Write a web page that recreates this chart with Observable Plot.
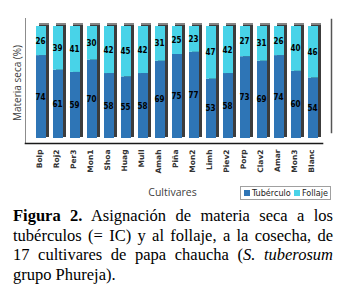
<!DOCTYPE html>
<html>
<head>
<meta charset="utf-8">
<script src="https://cdn.jsdelivr.net/npm/d3@7"></script>
<script src="https://cdn.jsdelivr.net/npm/@observablehq/plot@0.6"></script>
<style>
  html, body { margin: 0; padding: 0; background: #fff; }
  #wrap { position: relative; width: 346px; height: 290px; overflow: hidden; }
  #chart svg { display: block; }
  g[aria-label="xlabels"] text { letter-spacing: 2px; }
  #legend { position: absolute; left: 240px; top: 186px; width: 91px; height: 14px;
    border: 1px solid #a0a0a0; font: 9px "Liberation Sans Narrow", "DejaVu Sans Condensed", sans-serif;
    color: #222; display: flex; align-items: center; box-sizing: border-box; white-space: nowrap; }
  #legend .item { display: flex; align-items: center; margin-left: 3px; }
  #legend .item + .item { margin-left: auto; margin-right: 2px; }
  #legend .sw { width: 6px; height: 6px; margin-right: 2px; }
  #caption { position: absolute; left: 13px; top: 206px; width: 320px;
    font-family: "Liberation Serif", "DejaVu Serif", serif; font-size: 16.5px; line-height: 19.6px; color: #000; }
  #caption .ln { text-align: justify; text-align-last: justify; white-space: nowrap; }
  #caption .ln.last { text-align-last: left; }
</style>
</head>
<body>
<div id="wrap">
  <div id="chart"></div>
  <div id="legend"></div>
  <div id="caption">
    <div class="ln"><b>Figura 2.</b> Asignación de materia seca a los</div>
    <div class="ln">tubérculos (= IC) y al follaje, a la cosecha, de</div>
    <div class="ln">17 cultivares de papa chaucha (<i>S. tuberosum</i></div>
    <div class="ln last">grupo Phureja).</div>
  </div>
</div>
<script>
const cultivars = ["Bolp","Roj2","Per3","Mon1","Shoa","Huag","Mull","Amah","Piña","Mon2","Limh","Piev2","Porp","Clav2","Amar","Mon3","Blanc"];
const tuberculo = [74,61,59,70,58,55,58,69,75,77,53,58,73,69,74,60,54];
const follaje   = [26,39,41,30,42,45,42,31,25,23,47,42,27,31,26,40,46];
const series = ["Tubérculo","Follaje"];
const colors = ["#2e75b6","#48d3e8"];
const yTitle = "Materia seca (%)";
const xTitle = "Cultivares";

const tidy = [];
cultivars.forEach((c, i) => {
  tidy.push({cultivar: c, serie: series[0], value: tuberculo[i]});
  tidy.push({cultivar: c, serie: series[1], value: follaje[i]});
});
const totals = cultivars.map((c, i) => ({cultivar: c, total: tuberculo[i] + follaje[i]}));

const chart = Plot.plot({
  width: 346,
  height: 202,
  marginTop: 18,
  marginBottom: 59,
  marginLeft: 25,
  marginRight: 15,
  x: {type: "band", domain: cultivars, range: [31, 322], paddingInner: 0.43, paddingOuter: 0, axis: null},
  y: {domain: [0, 100], range: [138, 26], axis: null},
  color: {domain: series, range: colors},
  marks: [
    Plot.frame({anchor: "left", stroke: "#8c8c8c"}),
    Plot.frame({anchor: "right", stroke: "#555", strokeWidth: 1.5, insetBottom: 11, insetTop: 1}),
    Plot.frame({anchor: "bottom", stroke: "#1a1a1a", strokeWidth: 1.6, insetRight: 9}),
    Plot.barY(totals, {x: "cultivar", y1: 0, y2: "total", fill: "#858585", dx: 3, dy: -3}),
    Plot.barY(totals, {x: "cultivar", y1: 0, y2: "total", fill: "#3c3c3c", dx: 3, dy: -1}),
    Plot.barY(tidy, {x: "cultivar", y: "value", fill: "serie", order: series}),
    Plot.text(tidy, Plot.stackY({x: "cultivar", y: "value", z: "serie", order: series, text: "value",
      fontSize: 8, fontWeight: "bold", fill: "#000", dx: -1,
      fontFamily: "'Liberation Sans Narrow', 'DejaVu Sans Condensed', sans-serif"})),
    Plot.text(cultivars, {x: d => d, text: d => d, frameAnchor: "bottom", rotate: -90, textAnchor: "end",
      lineAnchor: "middle", dy: 6, dx: -2, fontSize: 7.5, fontWeight: "bold", fill: "#333", ariaLabel: "xlabels",
      fontFamily: "'DejaVu Sans', sans-serif"}),
    Plot.text([yTitle], {text: d => d, frameAnchor: "left", rotate: -90, textAnchor: "middle", lineAnchor: "middle",
      dx: -8, dy: 2, fontSize: 10, fill: "#404040", fontFamily: "'Open Sans', sans-serif"}),
    Plot.text([xTitle], {text: d => d, frameAnchor: "bottom", textAnchor: "middle", lineAnchor: "middle",
      dy: 49, dx: -6, fontSize: 10.5, fill: "#404040",
      fontFamily: "'Liberation Sans Narrow', 'Open Sans', sans-serif"})
  ]
});
document.getElementById("chart").appendChild(chart);

const legend = document.getElementById("legend");
series.forEach((s, i) => {
  const item = document.createElement("div");
  item.className = "item";
  const sw = document.createElement("div");
  sw.className = "sw";
  sw.style.background = colors[i];
  const t = document.createElement("span");
  t.textContent = s;
  item.appendChild(sw);
  item.appendChild(t);
  legend.appendChild(item);
});
</script>
</body>
</html>
